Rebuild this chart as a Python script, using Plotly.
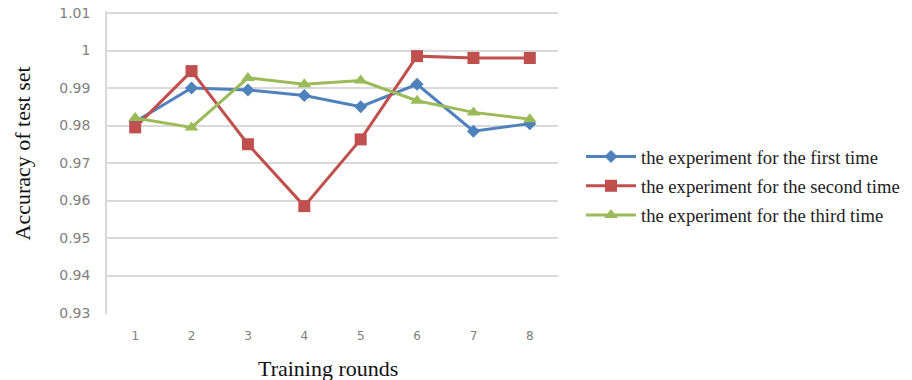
import plotly.graph_objects as go

rounds = ["1", "2", "3", "4", "5", "6", "7", "8"]
first_time = [0.981, 0.990, 0.9895, 0.988, 0.985, 0.991, 0.9785, 0.9805]
second_time = [0.9795, 0.9945, 0.975, 0.9585, 0.9763, 0.9985, 0.998, 0.998]
third_time = [0.982, 0.9795, 0.9927, 0.991, 0.992, 0.9866, 0.9835, 0.9817]
y_ticks = [0.93, 0.94, 0.95, 0.96, 0.97, 0.98, 0.99, 1.0, 1.01]
y_tick_labels = ["0.93", "0.94", "0.95", "0.96", "0.97", "0.98", "0.99", "1", "1.01"]
names = ["the experiment for the first time",
         "the experiment for the second time",
         "the experiment for the third time"]
x_title = "Training rounds"
y_title = "Accuracy of test set"

series = [first_time, second_time, third_time]
colors = ["#4F81BD", "#C0504D", "#9BBB59"]
symbols = ["diamond", "square", "triangle-up"]
sizes = [10, 12, 12]

W, H = 912, 380
L, T = 107, 11
PR, PB = 558, 314
R, B = W - PR, H - PB
pw, ph = PR - L, PB - T

# axis range chosen so that 1.01 sits at y=13px and 0.93 at y=313px
s = 0.01 / 37.5
y_range = [0.93 - (PB - 313) * s, 1.01 + (13 - T) * s]


def px(xp):
    return (xp - L) / pw


def py(yp):
    return 1 - (yp - T) / ph


fig = go.Figure()
for i, (vals, name) in enumerate(zip(series, names)):
    fig.add_trace(go.Scatter(
        x=rounds, y=vals, name=name, mode="lines+markers",
        legendgroup=f"g{i}",
        line=dict(color=colors[i], width=3),
        marker=dict(symbol=symbols[i], size=sizes[i], color=colors[i]),
    ))

serif = "Liberation Serif"
fig.add_annotation(text=x_title, xref="paper", yref="paper",
                   x=px(327.5), y=py(368),
                   xanchor="center", yanchor="middle", showarrow=False,
                   font=dict(family=serif, size=22, color="#111111"))
fig.add_annotation(text=y_title, xref="paper", yref="paper",
                   x=px(22), y=py(153.5),
                   xanchor="center", yanchor="middle", showarrow=False, textangle=-90,
                   font=dict(family=serif, size=22, color="#111111"))

fig.update_layout(
    width=W, height=H,
    margin=dict(l=L, r=R, t=T, b=B, autoexpand=False),
    plot_bgcolor="white", paper_bgcolor="white",
    showlegend=True,
    legend=dict(
        x=px(581), y=py(186), xanchor="left", yanchor="middle",
        font=dict(family=serif, size=18.6, color="#222222"),
        itemwidth=50, tracegroupgap=2, traceorder="grouped",
        bgcolor="rgba(0,0,0,0)",
    ),
    xaxis=dict(
        type="category", range=[-0.5, 7.5], automargin=False,
        showgrid=False, zeroline=False, showline=False,
        ticks="", ticklabelstandoff=13,
        tickfont=dict(family="DejaVu Sans", size=12, color="#808080"),
    ),
    yaxis=dict(
        range=y_range, tickvals=y_ticks, ticktext=y_tick_labels, automargin=False,
        ticklabeloverflow="allow",
        showgrid=True, gridcolor="#D9D9D9", gridwidth=1.5,
        zeroline=False, showline=True, linecolor="#D9D9D9", linewidth=1.5,
        ticks="", ticklabelstandoff=12,
        tickfont=dict(family="DejaVu Sans", size=14, color="#808080"),
    ),
)

fig.write_html("out.html",
               config={"displayModeBar": False},
               post_script="document.body.style.margin='0px';document.body.style.overflow='hidden';")
